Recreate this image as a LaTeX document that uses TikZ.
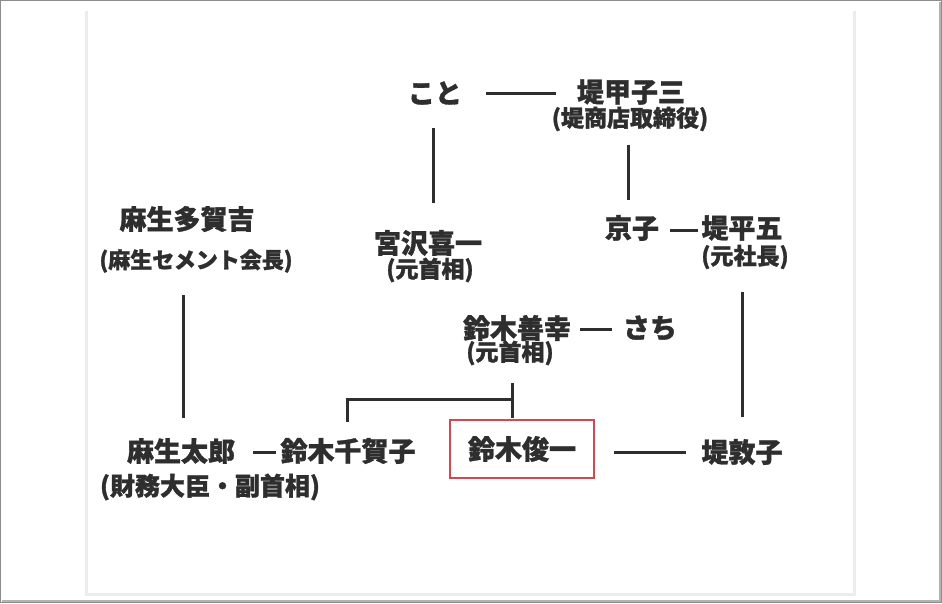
\documentclass[tikz,border=0pt]{standalone}
\usepackage{fontspec}
\setmainfont{Noto Sans CJK JP}[BoldFeatures={FakeBold=1.2}]
\usetikzlibrary{calc}

\definecolor{ink}{HTML}{2E2E2E}
\definecolor{frame}{HTML}{ECECEC}
\definecolor{mark}{HTML}{D9454F}

\begin{document}
\begin{tikzpicture}[x=1pt, y=-1pt,
  person/.style={inner sep=0pt, text=ink, font=\fontsize{27}{29}\selectfont\bfseries},
  role/.style={inner sep=0pt, text=ink, font=\fontsize{23}{25}\selectfont\bfseries},
  link/.style={draw=ink, line width=3pt},
  focus/.style={draw=mark, line width=2.4pt, minimum width=144pt, minimum height=58pt}
]

\useasboundingbox (0,0) rectangle (942,603);
\fill[white] (0,0) rectangle (942,603);
\draw[black!45, line width=1pt] (0.5,0.5) rectangle (941.5,602.5);
\draw[black!30, line width=2pt] (2,601) -- (940,601) -- (940,2);
\draw[frame, line width=3pt] (86,11) -- (86,594) -- (854,594) -- (854,11);

% top generation
\node[person] (koto) at (435,93) {こと};
\node[person] (kosan) at (631,92) {堤甲子三};
\node[role] (kosanT) at (630,119) {(堤商店取締役)};

% second generation
\node[person] (takakichi) at (187,219) {麻生多賀吉};
\node[role, font=\fontsize{22}{24}\selectfont\bfseries] (takakichiT) at (196,261) {(麻生セメント会長)};
\node[person] (miyazawa) at (428,243) {宮沢喜一};
\node[role] (miyazawaT) at (430,270) {(元首相)};
\node[person] (kyoko) at (632,228) {京子};
\node[person] (heigo) at (742,228) {堤平五};
\node[role] (heigoT) at (745,257) {(元社長)};

% third generation
\node[person] (zenko) at (517,328) {鈴木善幸};
\node[role] (zenkoT) at (510,353) {(元首相)};
\node[person] (sachi) at (650,328) {さち};

% bottom row
\node[person] (taro) at (181,451) {麻生太郎};
\node[role, font=\fontsize{25}{27}\selectfont\bfseries] (taroT) at (210,487) {(財務大臣・副首相)};
\node[person] (chikako) at (348,451) {鈴木千賀子};
\node[person, focus] (shunichi) at (522,449) {鈴木俊一};
\node[person] (atsuko) at (742,452) {堤敦子};

% links
\draw[link] ($(koto)+(51,0)$) -- ($(kosan)+(-75,1)$);
\draw[link] ($(koto)+(-2,35)$) -- ($(miyazawa)+(5,-40)$);
\draw[link] ($(kosanT)+(-2,26)$) -- ($(kyoko)+(-4,-28)$);
\draw[link] ($(kyoko)+(38,2)$) -- ($(heigo)+(-44,2)$);
\draw[link] ($(heigoT)+(-3,35)$) -- ($(atsuko)+(0,-35)$);
\draw[link] ($(takakichiT)+(-13,34)$) -- ($(taro)+(2,-33)$);
\draw[link] ($(zenko)+(63,1)$) -- ($(sachi)+(-38,1)$);
\draw[link] ($(zenkoT)+(2,30)$) -- ($(shunichi)+(-10,-31)$);
\draw[link] ($(zenkoT)+(2,46)$) -| ($(chikako)+(-1,-29)$);
\draw[link] ($(taro)+(72,1)$) -- ($(chikako)+(-72,1)$);
\draw[link] ($(shunichi.east)+(19,3)$) -- ($(atsuko)+(-56,0)$);

\end{tikzpicture}
\end{document}
